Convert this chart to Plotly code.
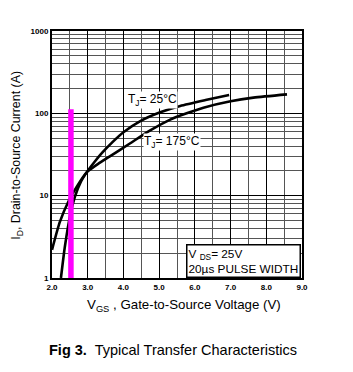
import plotly.graph_objects as go

# Data
t25_v = [2.25, 2.36, 2.52, 2.64, 2.8, 3.0, 3.2, 3.4, 3.7, 4.0, 4.46, 5.03, 5.59, 6.3, 6.96]
t25_i = [1.0, 2.4, 6.1, 9.7, 14.5, 20.0, 26.0, 33.0, 45.0, 59.0, 80.0, 103.0, 123.0, 145.0, 167.0]

t175_v = [2.0, 2.22, 2.46, 2.69, 2.97, 3.3, 3.62, 4.18, 4.75, 5.31, 5.77, 6.24, 7.0, 7.64, 8.58]
t175_i = [2.2, 4.8, 8.5, 12.8, 19.2, 24.5, 30.0, 43.0, 62.0, 84.0, 100.0, 117.0, 140.0, 155.0, 170.0]

bar_v = [2.53, 2.53]
bar_i = [1.0, 112.0]

x_ticks = [2.0, 3.0, 4.0, 5.0, 6.0, 7.0, 8.0, 9.0]
x_minor = [2.5, 3.5, 4.5, 5.5, 6.5, 7.5, 8.5]
y_ticks = [1, 10, 100, 1000]
y_minor = [m * d for d in (1, 10, 100) for m in range(2, 10)]

FONT = "Liberation Sans, Arial, sans-serif"

fig = go.Figure()
fig.add_trace(go.Scatter(x=t25_v, y=t25_i, mode="lines",
                         line=dict(color="black", width=2.6, shape="spline", smoothing=0.6),
                         showlegend=False, hoverinfo="skip"))
fig.add_trace(go.Scatter(x=t175_v, y=t175_i, mode="lines",
                         line=dict(color="black", width=2.6, shape="spline", smoothing=0.6),
                         showlegend=False, hoverinfo="skip"))
fig.add_trace(go.Scatter(x=bar_v, y=bar_i, mode="lines",
                         line=dict(color="#ff00ff", width=5.5),
                         showlegend=False, hoverinfo="skip"))

fig.update_layout(
    width=353, height=372,
    margin=dict(l=52, r=51, t=31, b=94),
    paper_bgcolor="white", plot_bgcolor="white",
    font=dict(family=FONT, color="black"),
    xaxis=dict(range=[2, 9], tickvals=x_ticks, ticktext=[f"{v:.1f}" for v in x_ticks],
               showgrid=True, gridcolor="black", gridwidth=1,
               minor=dict(tickvals=x_minor, showgrid=True, gridcolor="#555", gridwidth=1),
               showline=True, linecolor="black", linewidth=2, mirror=True,
               ticks="", tickfont=dict(size=8, family=FONT, weight="bold"), zeroline=False),
    yaxis=dict(type="log", range=[0, 3], tickvals=y_ticks, ticktext=[str(v) for v in y_ticks],
               showgrid=True, gridcolor="black", gridwidth=1,
               minor=dict(tickvals=y_minor, showgrid=True, gridcolor="#555", gridwidth=1),
               showline=True, linecolor="black", linewidth=2, mirror=True,
               ticks="", tickfont=dict(size=8, family=FONT, weight="bold"), zeroline=False),
)

anns = [
    dict(x=4.1, y=2.163, xref="x", yref="y", text="T<sub>J</sub>= 25°C", showarrow=False,
         xanchor="left", yanchor="middle", font=dict(size=12, family=FONT), bgcolor="white", borderpad=0),
    dict(x=4.55, y=1.656, xref="x", yref="y", text="T<sub>J</sub>= 175°C", showarrow=False,
         xanchor="left", yanchor="middle", font=dict(size=12, family=FONT), bgcolor="white", borderpad=0),
    dict(x=0.996, y=0.0, xref="paper", yref="paper",
         text="V <sub>DS</sub>= 25V<br>20µs PULSE WIDTH", align="left", showarrow=False,
         xanchor="right", yanchor="bottom", font=dict(size=11.8, family=FONT),
         bgcolor="white", bordercolor="black", borderwidth=1.5, borderpad=1),
    dict(x=-0.14, y=0.495, xref="paper", yref="paper", textangle=-90,
         text="I<sub>D</sub>, Drain-to-Source Current (A)", showarrow=False,
         xanchor="center", yanchor="middle", font=dict(size=12.4, family=FONT)),
    dict(x=0.528, y=-0.113, xref="paper", yref="paper",
         text="V<sub>GS</sub> , Gate-to-Source Voltage (V)", showarrow=False,
         xanchor="center", yanchor="middle", font=dict(size=13.3, family=FONT)),
    dict(x=-0.02, y=-0.291, xref="paper", yref="paper",
         text="<b>Fig 3.</b>  Typical Transfer Characteristics", showarrow=False,
         xanchor="left", yanchor="middle", font=dict(size=14.5, family=FONT)),
]
fig.update_layout(annotations=anns)

fig.write_html("out.html")
